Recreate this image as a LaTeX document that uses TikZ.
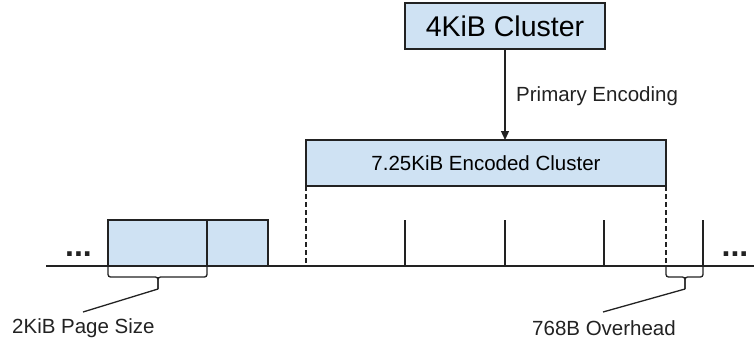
\documentclass[tikz,border=0pt]{standalone}
\usepackage{fontspec}
\setmainfont{Liberation Sans}
\usetikzlibrary{arrows.meta,positioning}
\definecolor{boxblue}{HTML}{CFE2F3}
\definecolor{ink}{HTML}{222222}
\tikzset{
  blk/.style={draw=ink, line width=1.3pt, fill=boxblue, inner sep=0pt, outer sep=0pt, anchor=north west},
  rule/.style={draw=ink, line width=1.3pt},
  brace/.style={draw=ink, line width=1.3pt, rounded corners=2.5pt},
  lbl/.style={font=\fontsize{20.5}{24}\selectfont, text=ink, inner sep=0pt},
  dots/.style={font=\bfseries\fontsize{32}{34}\selectfont, text=ink, inner sep=0pt, anchor=base},
}
\begin{document}
\begin{tikzpicture}[x=1pt,y=-1pt]
\useasboundingbox (0,0) rectangle (754,343);

% cluster and its encoded form
\node[blk, minimum width=200pt, minimum height=46pt, font=\fontsize{28.5}{32}\selectfont] (cluster) at (405,3) {4KiB Cluster};
\node[blk, minimum width=360pt, minimum height=46pt, font=\fontsize{20.5}{24}\selectfont] (encoded) at (306,140) {7.25KiB Encoded Cluster};
\draw[rule, -{Triangle[length=9pt,width=8pt]}] (cluster.south) -- (encoded.north -| cluster.south);
\node[lbl, anchor=west] (enc) at (516,96) {Primary Encoding};

% pages on the left
\node[blk, minimum width=99pt, minimum height=46pt] (pageA) at (108,220) {};
\node[blk, minimum width=61pt, minimum height=46pt] (pageB) at (207,220) {};

% storage line
\coordinate (lineL) at (46,266);
\coordinate (lineR) at (754,266);
\draw[rule] (lineL) -- (lineR);

% page boundaries under the encoded cluster
\foreach \x [count=\i] in {405,505,604,703} {
  \coordinate (t\i) at (\x,266);
  \draw[rule] (t\i) -- ++(0,-46);
}
\draw[rule, dash pattern=on 5pt off 3pt] (encoded.south west) -- (encoded.south west |- lineL);
\draw[rule, dash pattern=on 5pt off 3pt] (encoded.south east) -- (encoded.south east |- lineL);

% ellipses
\node[dots] (dotsL) at (78.5,256) {...};
\node[dots] (dotsR) at (735,256) {...};

% braces with their callouts
\coordinate (bA) at (158,289);
\draw[brace] (pageA.south west) -- ++(0,11) -| (bA);
\draw[brace] (pageA.south east) -- ++(0,11) -| (bA);
\node[lbl, anchor=west] (pagesize) at (12,328) {2KiB Page Size};
\draw[rule] (bA) -- (83,312);

\coordinate (bB) at (685,289);
\draw[brace] (encoded.south east |- lineL) -- ++(0,11) -| (bB);
\draw[brace] (t4) -- ++(0,11) -| (bB);
\node[lbl, anchor=west] (overhead) at (532,328) {768B Overhead};
\draw[rule] (bB) -- (603,312);
\end{tikzpicture}
\end{document}
